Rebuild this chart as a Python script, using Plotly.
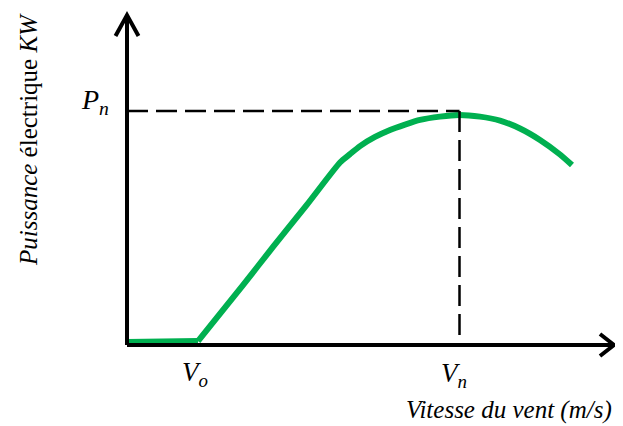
import plotly.graph_objects as go

# ---- data (wind speed in m/s-like units, power normalised to P_n = 1) ----
wind_speed = [0, 1.65, 3.55, 5.8, 7.3, 9.0, 10.65, 11.15, 11.65, 12.4, 13.15,
              13.9, 14.65, 15.65, 16.6, 17.65, 18.65, 19.65, 20.65, 21.65, 22.25]
power = [0.013, 0.015, 0.017, 0.256, 0.419, 0.600, 0.780, 0.816, 0.850, 0.889,
         0.919, 0.942, 0.962, 0.976, 0.983, 0.976, 0.959, 0.925, 0.876, 0.814, 0.769]
V_o = 3.55
V_n = 16.625
P_n = 1.0
x_arrow_end = 24.35
y_arrow_end = 1.41

W, H = 623, 426
OFF = 8
X0PX, Y0PX = 127, 345
XS, YS = 20.0, 234.0
def dx(px): return (px - X0PX) / XS
def dy(py): return (Y0PX - py) / YS

i_o = wind_speed.index(V_o)
green = dict(color="#00B050", width=6)
fig = go.Figure()
fig.add_trace(go.Scatter(x=wind_speed[:i_o + 1], y=power[:i_o + 1], mode="lines",
                         line=green, hoverinfo="skip", showlegend=False))
fig.add_trace(go.Scatter(x=wind_speed[i_o:], y=power[i_o:], mode="lines",
                         line=dict(**green, shape="spline", smoothing=0.6),
                         hoverinfo="skip", showlegend=False))

shapes = []
blk = "black"
shapes.append(dict(type="line", x0=0, y0=0, x1=x_arrow_end, y1=0,
                   line=dict(color=blk, width=4)))
shapes.append(dict(type="line", x0=0, y0=0, x1=0, y1=y_arrow_end,
                   line=dict(color=blk, width=4)))
wx, wy = 11.5 / XS, 21 / YS
shapes.append(dict(type="path",
                   path=f"M {-wx},{y_arrow_end - wy} L 0,{y_arrow_end} L {wx},{y_arrow_end - wy}",
                   line=dict(color=blk, width=4)))
ax_, ay_ = 14 / XS, 11 / YS
shapes.append(dict(type="path",
                   path=f"M {x_arrow_end - ax_},{ay_} L {x_arrow_end},0 L {x_arrow_end - ax_},{-ay_}",
                   line=dict(color=blk, width=4)))
shapes.append(dict(type="line", x0=0, y0=P_n, x1=V_n, y1=P_n,
                   line=dict(color=blk, width=2.5, dash="21px,8px")))
shapes.append(dict(type="line", x0=V_n, y0=P_n, x1=V_n, y1=0,
                   line=dict(color=blk, width=2.5, dash="21px,8px")))

serif = "Liberation Serif, Times New Roman, serif"
ann = [
    dict(x=dx(95), y=dy(101), text="<i>P<sub>n</sub></i>",
         font=dict(family=serif, size=28, color="black")),
    dict(x=dx(195), y=dy(374), text="<i>V<sub>o</sub></i>",
         font=dict(family=serif, size=27, color="black")),
    dict(x=dx(454), y=dy(375), text="<i>V<sub>n</sub></i>",
         font=dict(family=serif, size=27, color="black")),
    dict(x=dx(509), y=dy(410), text="<i>Vitesse du vent (m/s)</i>",
         font=dict(family=serif, size=25, color="black")),
    dict(x=dx(28), y=dy(140), text="<i>Puissance</i> électrique <i>KW</i>",
         textangle=-90, font=dict(family=serif, size=25, color="black")),
]
for a in ann:
    a.update(xref="x", yref="y", showarrow=False, xanchor="center", yanchor="middle")

fig.update_layout(
    width=W, height=H, margin=dict(l=0, r=0, t=0, b=0),
    paper_bgcolor="white", plot_bgcolor="white",
    font=dict(family=serif),
    xaxis=dict(range=[dx(OFF), dx(W + OFF)], visible=False, fixedrange=True),
    yaxis=dict(range=[dy(H + OFF), dy(OFF)], visible=False, fixedrange=True),
    shapes=shapes, annotations=ann, showlegend=False,
)
fig.write_html("out.html")
